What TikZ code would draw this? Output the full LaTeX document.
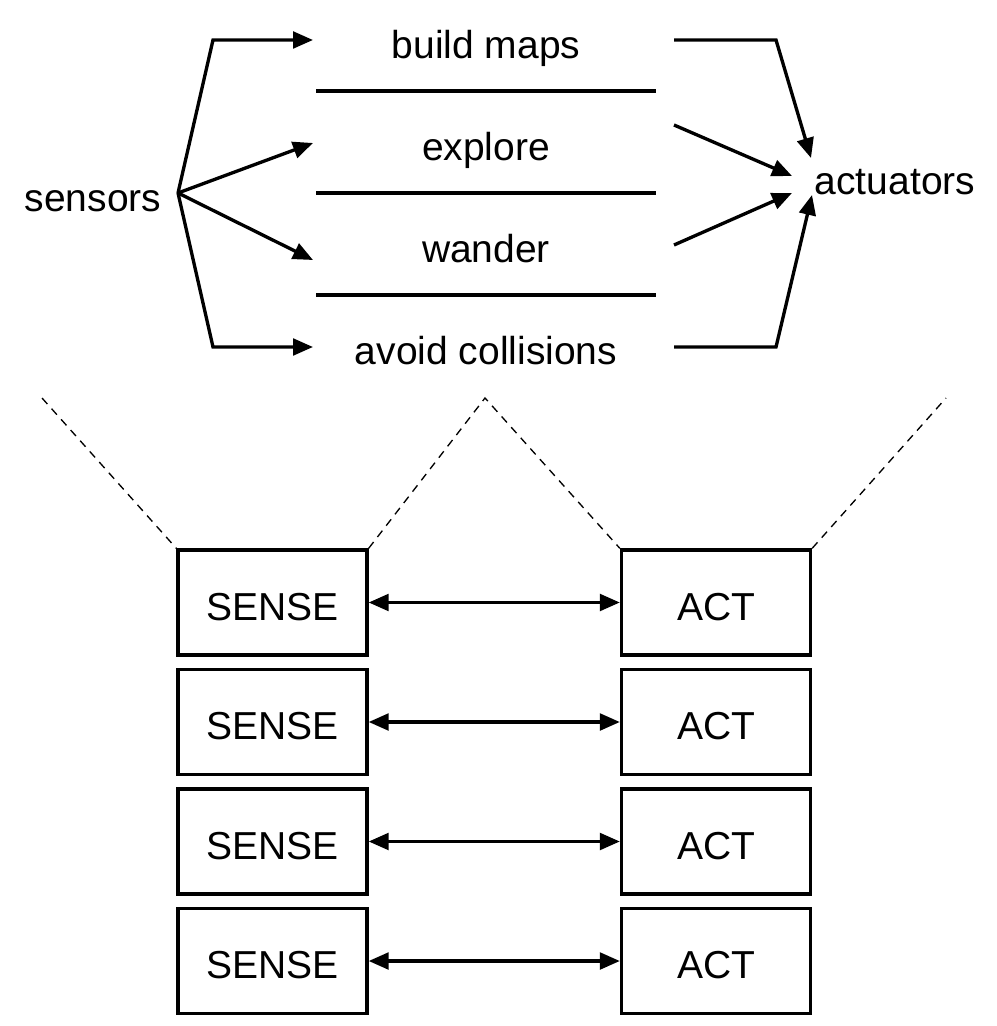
\documentclass[tikz,border=0pt]{standalone}
\usepackage{fontspec}
\setmainfont{Liberation Sans}
\usetikzlibrary{arrows.meta}
\begin{document}
\begin{tikzpicture}[x=0.3pt,y=-0.3pt,
  txt/.style={font=\fontsize{11.7}{14}\selectfont,inner sep=0pt,anchor=base},
  flow/.style={line width=1pt,-{Triangle[length=6pt,width=5pt]}},
  sep/.style={line width=1pt},
  unit/.style={shape=rectangle,draw=black,line width=1pt,minimum width=56.7pt,minimum height=31.5pt,inner sep=0pt,text height=10.5pt,text depth=0pt,font=\fontsize{11.7}{14}\selectfont},
  couple/.style={line width=1pt,{Triangle[length=6pt,width=5pt]}-{Triangle[length=6pt,width=5pt]}},
  zoomline/.style={line width=0.4pt,dash pattern=on 2.4pt off 1.9pt}]
\useasboundingbox (0,0) rectangle (996,1026);
% layers
\node[txt] (BM) at (486,59) {build maps};
\node[txt] (EX) at (486,161) {explore};
\node[txt] (WA) at (486,263) {wander};
\node[txt] (AC) at (486,365) {avoid collisions};
\node[txt] (SN) at (93,212) {sensors};
\node[txt] (AT) at (895,195) {actuators};
\draw[sep] (316,91) -- (656,91);
\draw[sep] (316,193) -- (656,193);
\draw[sep] (316,295) -- (656,295);
\coordinate (fan) at (178,193);
\coordinate (inBM) at (313,40);
\coordinate (inEX) at (313,143);
\coordinate (inWA) at (313,260);
\coordinate (inAC) at (313,347);
\coordinate (outBM) at (674,40);
\coordinate (outEX) at (674,125);
\coordinate (outWA) at (674,245);
\coordinate (outAC) at (674,347);
\coordinate (atBM) at (811,158);
\coordinate (atEX) at (792,176);
\coordinate (atWA) at (792,193);
\coordinate (atAC) at (812,195);
\draw[flow] (fan) -- (213,40) -- (inBM);
\draw[flow] (fan) -- (inEX);
\draw[flow] (fan) -- (inWA);
\draw[flow] (fan) -- (213,347) -- (inAC);
\draw[flow] (outBM) -- (776,40) -- (atBM);
\draw[flow] (outEX) -- (atEX);
\draw[flow] (outWA) -- (atWA);
\draw[flow] (outAC) -- (776,347) -- (atAC);
% behaviours
\node[unit] (S1) at (272.5,602.5) {SENSE};
\node[unit] (A1) at (716,602.5) {ACT};
\node[unit] (S2) at (272.5,722) {SENSE};
\node[unit] (A2) at (716,722) {ACT};
\node[unit] (S3) at (272.5,841.5) {SENSE};
\node[unit] (A3) at (716,841.5) {ACT};
\node[unit] (S4) at (272.5,961) {SENSE};
\node[unit] (A4) at (716,961) {ACT};
\draw[couple] (S1) -- (A1);
\draw[couple] (S2) -- (A2);
\draw[couple] (S3) -- (A3);
\draw[couple] (S4) -- (A4);
% zoom lines
\coordinate (zl) at (42,398);
\coordinate (zm) at (485,398);
\coordinate (zr) at (946,398);
\draw[zoomline] (zl) -- (S1.north west);
\draw[zoomline] (S1.north east) -- (zm) -- (A1.north west);
\draw[zoomline] (A1.north east) -- (zr);
\end{tikzpicture}
\end{document}
